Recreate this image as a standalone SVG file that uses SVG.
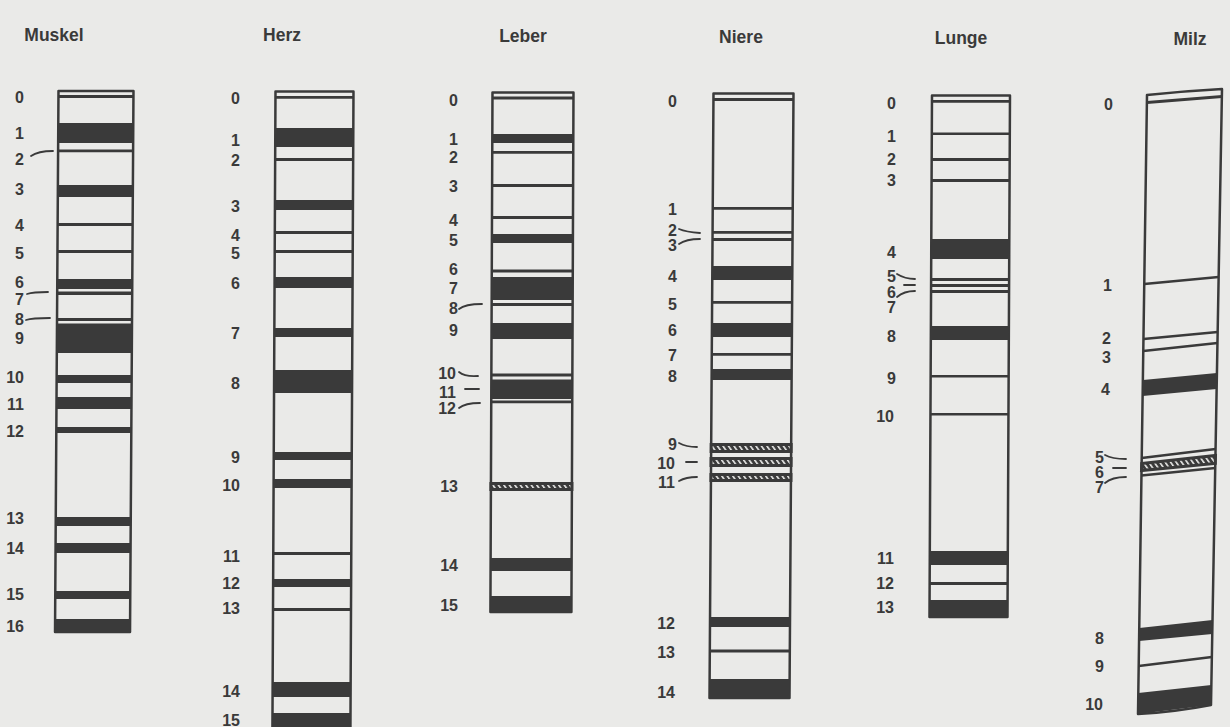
<svg xmlns="http://www.w3.org/2000/svg" width="1230" height="727" viewBox="0 0 1230 727">
<defs>
<pattern id="hatch" width="4.5" height="10" patternUnits="userSpaceOnUse" patternTransform="rotate(-35)">
<rect width="4.5" height="10" fill="#3a3a3a"/>
<rect width="1.6" height="10" fill="#eaeae8"/>
</pattern>
</defs>
<style>
.o{fill:none;stroke:#3a3a3a;stroke-width:2.5;stroke-linejoin:round}
.b{fill:#3a3a3a}
.h{fill:url(#hatch);stroke:#3a3a3a;stroke-width:3}
.ln{fill:none;stroke:#3a3a3a;stroke-width:2.6}
.t{font-family:"Liberation Sans",Arial,sans-serif;font-weight:bold;font-size:17.5px;fill:#3a3a3a;text-anchor:middle}
.n{font-family:"Liberation Sans",Arial,sans-serif;font-weight:bold;font-size:16px;fill:#3a3a3a;text-anchor:end}
.l{fill:none;stroke:#3a3a3a;stroke-width:1.8;stroke-linecap:round}
</style>
<rect width="1230" height="727" fill="#eaeae8"/>

<g id="muskel">
<text class="t" x="54" y="41">Muskel</text>
<g transform="matrix(1,0,-0.0064,1,0.57,0)">
<rect class="o" x="58.5" y="91" width="75" height="541"/>
<rect class="b" x="58.5" y="95" width="75" height="3"/>
<rect class="b" x="58.5" y="123" width="75" height="20"/>
<rect class="b" x="58.5" y="149.5" width="75" height="2.8"/>
<rect class="b" x="58.5" y="185" width="75" height="12"/>
<rect class="b" x="58.5" y="223" width="75" height="3"/>
<rect class="b" x="58.5" y="250" width="75" height="3"/>
<rect class="b" x="58.5" y="279" width="75" height="10"/>
<rect class="b" x="58.5" y="291.5" width="75" height="3.5"/>
<rect class="b" x="58.5" y="318" width="75" height="3"/>
<rect class="b" x="58.5" y="323.5" width="75" height="29.5"/>
<rect class="b" x="58.5" y="375" width="75" height="8"/>
<rect class="b" x="58.5" y="397" width="75" height="12"/>
<rect class="b" x="58.5" y="427" width="75" height="6"/>
<rect class="b" x="58.5" y="517" width="75" height="9"/>
<rect class="b" x="58.5" y="543" width="75" height="10"/>
<rect class="b" x="58.5" y="591" width="75" height="8"/>
<rect class="b" x="58.5" y="619" width="75" height="14"/>
</g>
<text class="n" x="24" y="103">0</text>
<text class="n" x="24" y="139">1</text>
<text class="n" x="24" y="165">2</text>
<text class="n" x="24" y="195">3</text>
<text class="n" x="24" y="231">4</text>
<text class="n" x="24" y="259">5</text>
<text class="n" x="24" y="288">6</text>
<text class="n" x="24" y="305">7</text>
<text class="n" x="24" y="325">8</text>
<text class="n" x="24" y="344">9</text>
<text class="n" x="24" y="383">10</text>
<text class="n" x="24" y="410">11</text>
<text class="n" x="24" y="437">12</text>
<text class="n" x="24" y="524">13</text>
<text class="n" x="24" y="554">14</text>
<text class="n" x="24" y="600">15</text>
<text class="n" x="24" y="632">16</text>
</g>

<g id="herz">
<text class="t" x="282" y="41">Herz</text>
<g transform="matrix(1,0,-0.0048,1,0.43,0)">
<rect class="o" x="275.5" y="91.5" width="78" height="650"/>
<rect class="b" x="275.5" y="96" width="78" height="2.8"/>
<rect class="b" x="275.5" y="128" width="78" height="19"/>
<rect class="b" x="275.5" y="158" width="78" height="3"/>
<rect class="b" x="275.5" y="200" width="78" height="10"/>
<rect class="b" x="275.5" y="231" width="78" height="3"/>
<rect class="b" x="275.5" y="250" width="78" height="3"/>
<rect class="b" x="275.5" y="277" width="78" height="11"/>
<rect class="b" x="275.5" y="328" width="78" height="9"/>
<rect class="b" x="275.5" y="370" width="78" height="23"/>
<rect class="b" x="275.5" y="452" width="78" height="8"/>
<rect class="b" x="275.5" y="479" width="78" height="9"/>
<rect class="b" x="275.5" y="552" width="78" height="3"/>
<rect class="b" x="275.5" y="579" width="78" height="8"/>
<rect class="b" x="275.5" y="608" width="78" height="3"/>
<rect class="b" x="275.5" y="682" width="78" height="15"/>
<rect class="b" x="275.5" y="713" width="78" height="20"/>
</g>
<text class="n" x="240" y="104">0</text>
<text class="n" x="240" y="146">1</text>
<text class="n" x="240" y="166">2</text>
<text class="n" x="240" y="212">3</text>
<text class="n" x="240" y="241">4</text>
<text class="n" x="240" y="259">5</text>
<text class="n" x="240" y="289">6</text>
<text class="n" x="240" y="339">7</text>
<text class="n" x="240" y="389">8</text>
<text class="n" x="240" y="463">9</text>
<text class="n" x="240" y="491">10</text>
<text class="n" x="240" y="562">11</text>
<text class="n" x="240" y="589">12</text>
<text class="n" x="240" y="614">13</text>
<text class="n" x="240" y="697">14</text>
<text class="n" x="240" y="726">15</text>
</g>

<g id="leber">
<text class="t" x="523" y="42">Leber</text>
<g transform="matrix(1,0,-0.004,1,0.36,0)">
<rect class="o" x="492.5" y="92.5" width="81" height="519.5"/>
<rect class="b" x="492.5" y="96.5" width="81" height="3"/>
<rect class="b" x="492.5" y="134" width="81" height="9"/>
<rect class="b" x="492.5" y="151" width="81" height="2.8"/>
<rect class="b" x="492.5" y="184" width="81" height="3"/>
<rect class="b" x="492.5" y="216" width="81" height="3"/>
<rect class="b" x="492.5" y="234" width="81" height="9"/>
<rect class="b" x="492.5" y="269.5" width="81" height="3"/>
<rect class="b" x="492.5" y="277" width="81" height="23"/>
<rect class="b" x="492.5" y="303" width="81" height="3"/>
<rect class="b" x="492.5" y="323" width="81" height="16"/>
<rect class="b" x="492.5" y="373.5" width="81" height="3"/>
<rect class="b" x="492.5" y="379.5" width="81" height="19.5"/>
<rect class="b" x="492.5" y="400.5" width="81" height="2.8"/>
<rect class="h" x="492.5" y="483.5" width="81" height="6"/>
<rect class="b" x="492.5" y="558" width="81" height="13"/>
<rect class="b" x="492.5" y="596" width="81" height="16"/>
</g>
<text class="n" x="458" y="106">0</text>
<text class="n" x="458" y="145">1</text>
<text class="n" x="458" y="163">2</text>
<text class="n" x="458" y="192">3</text>
<text class="n" x="458" y="226">4</text>
<text class="n" x="458" y="246">5</text>
<text class="n" x="458" y="275">6</text>
<text class="n" x="458" y="294">7</text>
<text class="n" x="458" y="314">8</text>
<text class="n" x="458" y="336">9</text>
<text class="n" x="456" y="379">10</text>
<text class="n" x="456" y="398">11</text>
<text class="n" x="456" y="414">12</text>
<text class="n" x="458" y="492">13</text>
<text class="n" x="458" y="571">14</text>
<text class="n" x="458" y="611">15</text>
</g>

<g id="niere">
<text class="t" x="741" y="43">Niere</text>
<g transform="matrix(1,0,-0.0066,1,0.61,0)">
<rect class="o" x="713.5" y="93.5" width="80" height="604.5"/>
<rect class="b" x="713.5" y="98" width="80" height="3"/>
<rect class="b" x="713.5" y="207" width="80" height="2.8"/>
<rect class="b" x="713.5" y="231" width="80" height="2.8"/>
<rect class="b" x="713.5" y="238" width="80" height="3"/>
<rect class="b" x="713.5" y="266" width="80" height="14"/>
<rect class="b" x="713.5" y="301" width="80" height="2.8"/>
<rect class="b" x="713.5" y="323" width="80" height="14"/>
<rect class="b" x="713.5" y="353" width="80" height="2.8"/>
<rect class="b" x="713.5" y="369" width="80" height="11"/>
<rect class="h" x="713.5" y="444.5" width="80" height="7"/>
<rect class="h" x="713.5" y="458.5" width="80" height="7"/>
<rect class="h" x="713.5" y="474.5" width="80" height="6"/>
<rect class="b" x="713.5" y="617" width="80" height="10"/>
<rect class="b" x="713.5" y="649.5" width="80" height="3"/>
<rect class="b" x="713.5" y="679" width="80" height="19"/>
</g>
<text class="n" x="677" y="107">0</text>
<text class="n" x="677" y="215">1</text>
<text class="n" x="677" y="236">2</text>
<text class="n" x="677" y="251">3</text>
<text class="n" x="677" y="282">4</text>
<text class="n" x="677" y="310">5</text>
<text class="n" x="677" y="336">6</text>
<text class="n" x="677" y="361">7</text>
<text class="n" x="677" y="382">8</text>
<text class="n" x="677" y="450">9</text>
<text class="n" x="675" y="469">10</text>
<text class="n" x="675" y="488">11</text>
<text class="n" x="675" y="629">12</text>
<text class="n" x="675" y="658">13</text>
<text class="n" x="675" y="698">14</text>
</g>

<g id="lunge">
<text class="t" x="961" y="44">Lunge</text>
<g transform="matrix(1,0,-0.0048,1,0.45,0)">
<rect class="o" x="932" y="95.5" width="78" height="521.5"/>
<rect class="b" x="932" y="100" width="78" height="2.8"/>
<rect class="b" x="932" y="132.5" width="78" height="2.6"/>
<rect class="b" x="932" y="158" width="78" height="3"/>
<rect class="b" x="932" y="179" width="78" height="3"/>
<rect class="b" x="932" y="239" width="78" height="20"/>
<rect class="b" x="932" y="278" width="78" height="3"/>
<rect class="b" x="932" y="284" width="78" height="3"/>
<rect class="b" x="932" y="290" width="78" height="3"/>
<rect class="b" x="932" y="326" width="78" height="14"/>
<rect class="b" x="932" y="375" width="78" height="2.6"/>
<rect class="b" x="932" y="413" width="78" height="2.6"/>
<rect class="b" x="932" y="551" width="78" height="14"/>
<rect class="b" x="932" y="582" width="78" height="3"/>
<rect class="b" x="932" y="600" width="78" height="17"/>
</g>
<text class="n" x="896" y="109">0</text>
<text class="n" x="896" y="142">1</text>
<text class="n" x="896" y="165">2</text>
<text class="n" x="896" y="186">3</text>
<text class="n" x="896" y="258">4</text>
<text class="n" x="896" y="281.5">5</text>
<text class="n" x="896" y="297.5">6</text>
<text class="n" x="896" y="313">7</text>
<text class="n" x="896" y="342">8</text>
<text class="n" x="896" y="384">9</text>
<text class="n" x="894" y="422">10</text>
<text class="n" x="894" y="564">11</text>
<text class="n" x="894" y="589">12</text>
<text class="n" x="894" y="613">13</text>
</g>

<g id="milz">
<text class="t" x="1190" y="45">Milz</text>
<path class="o" d="M1147,95 Q1185,91 1222,89 L1211,705 Q1175,712 1138,714 Z"/>
<polygon class="b" points="1147,101 1222,95 1222,98 1147,104"/>
<line class="ln" x1="1144.2" y1="284" x2="1218.6" y2="277"/>
<line class="ln" x1="1143.5" y1="339" x2="1217.7" y2="332"/>
<line class="ln" x1="1143.3" y1="351" x2="1217.5" y2="343"/>
<polygon class="b" points="1142.9,380 1216.9,373 1216.6,389 1142.6,396"/>
<line class="ln" x1="1141.7" y1="458" x2="1215.6" y2="449"/>
<polygon class="h" points="1141.7,463.5 1215.5,455.5 1215.3,463.5 1141.5,470.5"/>
<line class="ln" x1="1141.5" y1="475.5" x2="1215.2" y2="468"/>
<polygon class="b" points="1139.3,628 1212.5,620 1212.3,634 1139.1,641"/>
<line class="ln" x1="1138.7" y1="666" x2="1211.9" y2="657"/>
<polygon class="b" points="1138.3,693 1211.4,685 1211,705 1138,714"/>
<text class="n" x="1113" y="110">0</text>
<text class="n" x="1112" y="291">1</text>
<text class="n" x="1111" y="344">2</text>
<text class="n" x="1111" y="363">3</text>
<text class="n" x="1110" y="395">4</text>
<text class="n" x="1104" y="463">5</text>
<text class="n" x="1104" y="478">6</text>
<text class="n" x="1104" y="493">7</text>
<text class="n" x="1104" y="644">8</text>
<text class="n" x="1104" y="672">9</text>
<text class="n" x="1103" y="710">10</text>
</g>

<g id="connectors">
<path class="l" d="M31,156 Q38,151 53,151"/>
<path class="l" d="M27,294 Q33,292 48,292"/>
<path class="l" d="M26,320 Q32,318 50,318"/>
<path class="l" d="M459,309 Q465,304 482,304"/>
<path class="l" d="M459,372 Q465,377 478,376"/>
<path class="l" d="M465,389 L479,389"/>
<path class="l" d="M459,408 Q465,403 480,403"/>
<path class="l" d="M679,229 Q686,232 700,233"/>
<path class="l" d="M679,244 Q686,239 700,239"/>
<path class="l" d="M679,443 Q686,447 697,447"/>
<path class="l" d="M686,462 L697,462"/>
<path class="l" d="M679,481 Q686,477 697,477"/>
<path class="l" d="M897,274 Q905,279 915,279"/>
<path class="l" d="M904,285 L915,285"/>
<path class="l" d="M897,297 Q904,291 915,291"/>
<path class="l" d="M1105,455 Q1112,459 1126,459"/>
<path class="l" d="M1113,468 L1126,468"/>
<path class="l" d="M1105,483 Q1112,477 1126,477"/>
</g>
</svg>
